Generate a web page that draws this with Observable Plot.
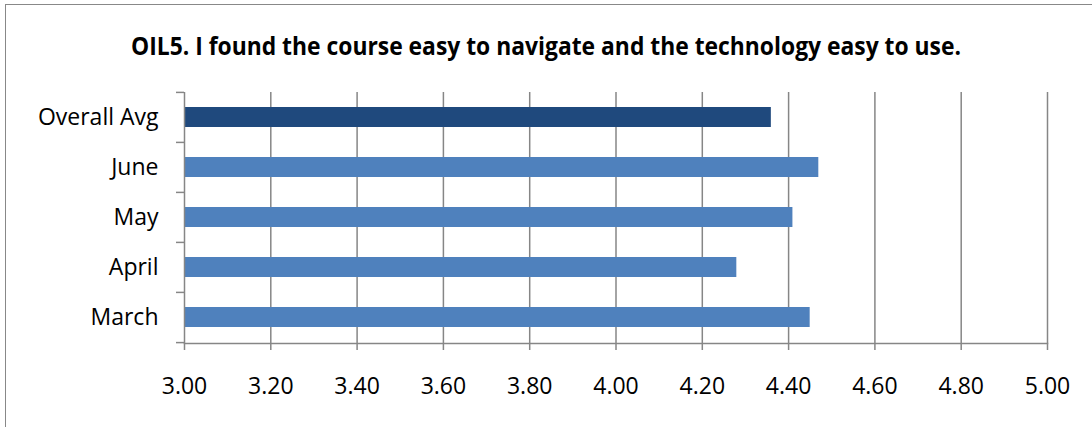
<!DOCTYPE html>
<html>
<head>
<meta charset="utf-8">
<script src="https://cdn.jsdelivr.net/npm/d3@7"></script>
<script src="https://cdn.jsdelivr.net/npm/@observablehq/plot@0.6"></script>
<style>
  html, body { margin: 0; padding: 0; background: #fff; }
  #wrap { position: relative; width: 1092px; height: 427px; overflow: hidden; }
  #frame { position: absolute; left: 5px; top: 4px; width: 1100px; height: 440px;
           border-top: 1.5px solid #888; border-left: 1.5px solid #888; box-sizing: border-box; }
  #title { position: absolute; left: 0; top: 33px; width: 1092px; text-align: center;
           font-family: "Open Sans", sans-serif; font-weight: bold; font-size: 25px; color: #000;
           white-space: nowrap; line-height: 1; }
  #title span { display: inline-block; transform-origin: center; }
  #chart { position: absolute; left: 0; top: 0; }
</style>
</head>
<body>
<div id="wrap">
  <div id="frame"></div>
  <div id="chart"></div>
  <div id="title"><span id="titletext"></span></div>
</div>
<script>
const titleText = "OIL5. I found the course easy to navigate and the technology easy to use.";
const categories = ["Overall Avg", "June", "May", "April", "March"];
const values = [4.36, 4.47, 4.41, 4.28, 4.45];
const highlight = ["Overall Avg"];
const xTicks = [3.0, 3.2, 3.4, 3.6, 3.8, 4.0, 4.2, 4.4, 4.6, 4.8, 5.0];

const data = categories.map((c, i) => ({category: c, value: values[i]}));

const W = 1092, H = 427;
const mTop = 92, mBottom = 84, mLeft = 184, mRight = 45;
const step = (H - mTop - mBottom) / categories.length;
const gray = "#868686";
const font = "\"Open Sans\", sans-serif";
const lastCategory = categories[categories.length - 1];

const chart = Plot.plot({
  width: W,
  height: H,
  marginTop: mTop,
  marginBottom: mBottom,
  marginLeft: mLeft,
  marginRight: mRight,
  style: {fontFamily: font, fontSize: "23px", color: "#000", background: "transparent"},
  x: {domain: [3, 5], ticks: xTicks, tickFormat: d => d.toFixed(2)},
  y: {domain: categories, paddingInner: 0.6, paddingOuter: 0.3, label: null},
  marks: [
    Plot.gridX(xTicks.filter(t => t > 3), {stroke: gray, strokeOpacity: 1, strokeWidth: 1.5}),
    Plot.barX(data, {
      y: "category", x1: 3, x2: "value",
      fill: d => highlight.includes(d.category) ? "#1F497D" : "#4F81BD"
    }),
    Plot.ruleX([3], {stroke: gray, strokeWidth: 1.5}),
    Plot.frame({anchor: "bottom", stroke: gray, strokeWidth: 1.5}),
    Plot.ruleY(categories, {y: d => d, x1: 3, x2: 3, insetLeft: -8, dy: -step / 2, stroke: gray, strokeWidth: 1.5}),
    Plot.ruleY([lastCategory], {y: d => d, x1: 3, x2: 3, insetLeft: -8, dy: step / 2, stroke: gray, strokeWidth: 1.5}),
    Plot.axisX({ticks: xTicks, tickFormat: d => d.toFixed(2), tickSize: 7, tickPadding: 27, stroke: gray, strokeWidth: 1.5, strokeOpacity: 1, label: null, fill: "#000"}),
    Plot.axisY({tickSize: 0, tickPadding: 26, label: null, fill: "#000"})
  ]
});
document.getElementById("chart").appendChild(chart);

const t = document.getElementById("titletext");
t.textContent = titleText;
const targetWidth = 830;
const w = t.getBoundingClientRect().width;
if (w > 0) t.style.transform = `scaleX(${targetWidth / w})`;
</script>
</body>
</html>
